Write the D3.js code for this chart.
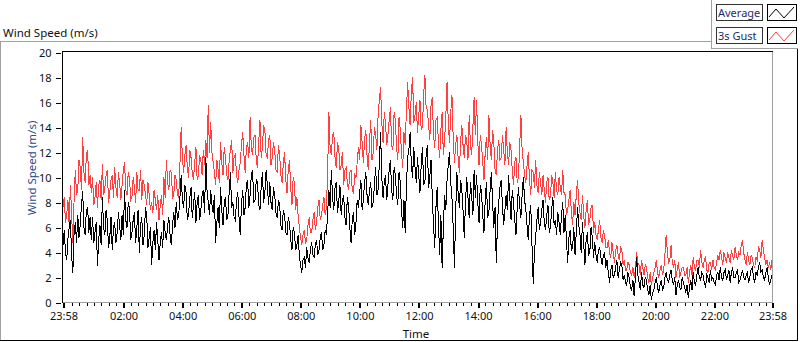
<!DOCTYPE html>
<html>
<head>
<meta charset="utf-8">
<script src="https://cdn.jsdelivr.net/npm/d3@7"></script>
<style>
  html, body { margin: 0; padding: 0; background: #fff; }
  svg { display: block; font-family: 'Noto Sans', sans-serif; }
</style>
</head>
<body>
<svg id="chart" width="800" height="342"></svg>
<script>
// one sample every 2.5 minutes from 23:58 the day before (one row = one hour)
const avgSpeed = [
  4.6,5.8,4.0,3.4,5.1,6.0,6.6,3.8,2.4,5.6,6.4,4.8,7.0,5.2,6.2,7.8,8.9,6.0,5.4,7.4,7.6,5.6,6.8,5.0,
  6.8,4.8,5.6,6.4,2.9,5.0,6.2,4.6,8.4,6.0,5.4,7.4,6.6,4.4,5.2,6.8,4.2,6.0,6.4,4.8,5.6,7.2,6.2,5.0,
  7.0,5.4,9.0,6.6,6.0,8.0,7.6,5.0,5.6,6.6,7.2,4.8,6.0,7.4,4.0,6.2,6.8,4.6,5.4,7.6,7.0,4.4,5.2,6.0,
  3.0,4.8,5.8,4.2,6.4,5.0,3.4,4.8,5.6,4.4,6.6,5.6,5.0,6.2,6.8,5.4,4.6,6.2,7.2,6.0,8.0,6.6,7.0,8.4,
  10.2,8.2,7.6,9.4,8.8,6.6,7.0,8.4,9.2,6.8,7.8,8.8,6.4,8.0,8.6,6.6,7.4,8.6,9.0,7.2,11.6,9.0,8.0,7.0,
  9.0,7.8,7.2,8.6,4.8,6.4,7.6,6.0,9.2,7.4,6.2,8.0,8.4,6.6,7.0,8.8,10.4,7.6,8.0,6.8,6.6,8.2,8.8,6.8,
  5.4,7.8,9.0,7.0,7.6,9.4,9.8,7.6,8.6,10.2,10.6,8.0,8.2,9.8,9.6,7.8,7.4,9.2,10.4,8.0,8.8,10.6,9.4,7.8,
  9.6,8.0,7.4,9.2,8.6,7.2,6.8,8.2,7.8,6.2,5.8,7.4,7.0,5.6,5.4,6.8,6.4,5.0,4.2,6.0,5.6,4.2,4.6,5.4,
  3.8,3.0,2.4,3.4,3.6,2.8,4.4,3.6,3.2,4.2,4.8,3.8,3.6,4.6,5.0,3.8,4.2,5.2,5.6,4.2,4.6,5.8,5.4,7.2,
  9.0,7.6,10.6,8.4,7.4,9.2,9.6,7.2,8.0,9.4,7.0,8.2,8.6,6.8,6.2,8.4,7.8,6.0,4.8,6.6,7.2,5.4,6.4,8.2,
  7.6,8.8,9.8,7.4,8.2,9.6,10.4,8.6,7.8,9.0,9.6,7.6,8.0,9.4,10.8,8.6,9.0,11.2,13.6,10.0,8.4,9.6,10.2,8.2,
  9.4,10.6,11.4,9.0,8.2,10.8,10.2,8.6,7.8,10.4,9.6,7.4,6.0,8.2,5.6,9.4,11.6,12.2,13.6,11.0,10.0,12.4,10.8,9.6,
  11.6,10.2,8.8,11.0,12.4,9.4,9.6,11.8,12.6,9.2,10.0,11.4,8.4,6.2,4.4,7.6,9.2,6.4,3.8,7.0,2.8,6.0,8.6,7.4,
  9.8,11.0,12.0,9.6,8.4,6.0,2.8,7.2,10.4,8.8,7.6,9.8,9.0,7.4,5.2,8.0,10.0,8.4,6.8,9.6,8.6,7.0,10.6,8.4,
  10.2,8.0,6.4,9.4,8.8,7.0,5.6,8.2,9.6,6.8,7.2,9.0,10.4,8.0,6.0,7.6,3.2,6.4,8.0,9.2,9.8,7.8,6.2,7.4,
  8.6,7.4,10.2,8.4,6.6,9.0,8.0,6.6,5.4,7.6,9.2,7.8,6.8,8.6,10.0,8.2,7.4,6.2,5.0,7.0,7.8,4.6,1.5,4.0,
  5.2,6.6,7.6,5.8,6.4,7.4,8.2,6.4,5.8,7.0,7.8,5.6,6.0,7.4,8.4,6.2,6.6,5.4,7.2,6.4,5.4,7.0,8.0,5.6,
  7.0,5.0,3.2,5.2,5.8,4.2,4.4,6.0,3.8,5.6,7.6,6.2,5.4,4.0,6.4,4.8,3.0,5.0,5.6,3.8,4.0,6.0,5.2,3.6,
  4.8,3.8,3.2,4.2,4.4,3.6,3.0,3.8,4.0,2.8,3.4,2.4,1.6,2.6,3.0,2.0,2.2,2.8,3.4,2.0,2.6,3.2,3.0,1.8,
  2.2,1.6,1.4,2.4,2.0,1.2,1.0,1.8,0.5,2.0,3.6,2.2,1.6,1.0,2.4,1.4,1.2,2.0,1.8,1.0,0.6,1.4,0.2,0.8,
  1.0,1.6,2.0,1.2,0.8,1.4,1.8,1.0,1.2,2.0,2.4,1.8,1.6,2.2,2.6,1.8,1.4,2.0,0.6,1.4,1.8,1.2,1.0,2.0,
  1.6,1.2,0.8,1.4,0.4,1.2,1.8,1.0,2.4,1.6,1.4,2.2,2.8,2.0,1.8,2.4,2.2,1.6,1.2,2.2,2.0,1.6,2.6,1.8,
  2.0,1.6,1.4,2.2,2.4,1.8,2.8,2.0,1.8,2.4,2.6,1.8,2.2,2.6,1.6,2.4,2.8,2.0,2.0,2.4,2.6,1.6,1.8,2.2,
  2.6,2.0,1.8,2.2,2.4,1.6,2.0,2.6,2.8,2.0,1.6,2.4,2.2,2.8,3.2,2.4,2.6,2.0,1.8,2.4,2.8,2.0,1.4,1.8,
  2.2
];

const gustSpeed = [
  7.6,8.4,6.4,7.0,8.2,6.2,9.4,7.0,4.8,8.2,10.6,8.6,9.0,11.4,10.8,9.0,13.2,10.4,9.6,11.8,12.2,9.4,10.2,8.8,
  10.0,7.8,8.4,9.6,7.6,9.4,9.8,8.2,11.1,8.6,9.2,10.2,10.6,8.0,8.8,9.8,10.2,8.4,10.8,9.2,8.4,10.4,9.6,8.2,
  9.4,10.6,11.2,9.0,8.6,10.4,10.0,8.2,8.4,10.0,9.2,8.0,10.4,9.0,9.0,10.6,8.2,9.8,9.4,8.6,7.8,9.6,8.6,7.4,
  8.0,7.2,9.0,8.2,7.4,8.6,6.6,7.8,8.6,7.0,10.0,8.4,11.4,9.6,9.0,10.6,10.4,8.4,8.6,10.2,9.8,8.6,8.4,11.0,
  14.0,11.6,10.4,11.8,12.6,10.8,10.0,12.2,11.6,10.4,9.8,11.2,12.4,9.8,10.2,11.8,11.4,10.2,12.2,11.0,13.0,11.6,15.8,12.0,
  14.4,12.0,11.2,10.4,9.4,11.4,10.6,9.6,12.8,11.2,10.2,12.4,11.6,10.2,9.8,11.4,12.2,13.0,10.4,11.6,11.8,10.2,9.6,10.6,
  11.2,12.6,13.6,11.8,10.4,12.4,12.8,11.6,14.8,12.4,11.8,13.2,13.4,11.4,10.8,12.8,14.6,11.6,12.4,14.2,13.8,11.8,11.6,13.0,
  13.4,11.0,11.6,12.8,12.2,10.6,10.4,12.6,11.8,10.2,9.6,11.2,12.0,9.8,8.8,10.6,11.4,9.2,7.8,10.0,9.6,7.4,8.4,7.0,
  6.0,5.2,4.6,5.4,5.8,4.8,5.0,6.2,6.8,5.6,5.6,6.6,7.2,5.8,6.4,7.6,8.2,6.6,7.0,7.8,8.4,7.0,7.6,10.4,
  15.2,12.4,11.8,13.4,13.6,11.6,10.8,12.8,12.4,10.6,11.0,12.0,9.4,10.6,10.8,9.6,9.0,10.4,10.6,9.0,8.8,10.2,10.0,11.2,
  12.4,11.4,14.2,12.8,11.2,13.0,13.8,11.8,10.6,12.8,14.6,11.4,12.0,14.0,13.4,12.2,15.0,16.2,17.2,14.4,12.8,15.2,14.4,12.6,
  13.4,14.6,15.6,12.6,12.2,15.2,14.6,12.4,11.4,14.8,13.8,12.0,10.8,13.6,12.6,15.4,17.6,15.6,14.2,16.8,18.0,14.4,15.0,16.0,
  13.6,15.0,16.2,13.8,14.0,16.6,18.2,15.6,15.4,14.2,13.0,15.8,16.4,13.4,12.4,14.6,14.8,12.8,11.6,13.8,15.2,11.8,13.0,14.8,
  17.6,14.4,12.8,15.2,16.6,13.2,11.2,12.6,13.4,11.6,10.4,12.8,14.2,12.6,11.6,13.4,13.0,11.4,15.0,12.6,11.8,14.0,16.4,13.4,
  16.2,12.8,11.0,13.4,12.6,11.2,9.8,12.0,13.2,11.4,15.0,12.6,11.4,13.8,12.8,10.6,10.2,12.2,13.0,11.4,11.6,13.4,12.2,11.0,
  14.0,12.0,11.0,12.8,12.2,10.6,9.4,11.2,11.6,9.6,10.0,12.4,15.0,12.2,11.2,10.2,9.6,11.0,12.0,9.8,8.6,10.6,10.4,9.2,
  11.4,9.4,8.8,10.4,9.6,8.6,10.2,9.0,8.0,9.6,10.0,8.2,8.4,10.2,9.6,8.4,10.4,9.0,8.6,10.0,9.2,8.6,10.6,8.8,
  8.6,7.0,7.4,8.2,9.0,7.2,6.2,8.0,7.0,8.6,9.8,8.0,7.2,6.6,8.6,7.0,6.0,7.4,8.2,6.2,6.6,7.6,7.8,5.6,
  6.4,5.4,5.0,5.8,6.6,5.2,4.8,5.8,5.4,4.4,4.4,5.0,4.0,3.6,4.8,4.0,3.2,4.2,4.6,3.8,3.4,4.4,4.2,3.0,
  3.4,2.6,2.6,3.2,3.0,2.4,2.2,2.8,2.0,2.6,4.0,3.2,3.0,2.2,3.4,2.8,2.2,3.0,2.8,2.0,1.6,2.4,1.4,2.0,
  2.4,2.8,3.4,2.4,2.0,2.6,3.0,2.2,2.6,3.8,5.4,4.0,3.2,3.4,4.6,3.2,2.8,3.4,2.0,2.6,3.2,2.0,2.4,2.8,
  2.8,2.2,2.2,2.8,1.6,2.4,3.0,2.2,3.6,2.8,2.6,3.4,3.4,2.8,4.2,3.2,2.8,3.4,3.6,2.6,2.4,3.2,3.2,2.6,
  3.4,2.8,2.6,3.2,3.8,3.4,4.2,3.6,3.0,4.0,3.6,3.2,4.0,3.6,3.2,4.2,3.8,3.4,4.4,3.8,3.4,4.0,3.8,4.6,
  5.0,4.0,3.4,3.0,4.0,3.4,3.0,3.8,3.6,3.0,2.8,3.6,3.4,4.4,4.2,3.6,5.0,4.2,3.6,3.0,3.4,2.8,3.2,2.6,
  3.4
];

const sampleStep = 2.5; // minutes
const timeTickLabels = ['23:58', '02:00', '04:00', '06:00', '08:00', '10:00', '12:00',
  '14:00', '16:00', '18:00', '20:00', '22:00', '23:58'];
const speedTicks = [0, 2, 4, 6, 8, 10, 12, 14, 16, 18, 20];
const seriesNames = ['Average', '3s Gust'];
const seriesColors = ['#000000', '#ff4040'];

const svg = d3.select('#chart');
const plot = { left: 63, top: 52.5, right: 772, bottom: 302.5 };

const start = new Date(2020, 0, 1, 23, 58);
const end = d3.timeMinute.offset(start, 1440);
const startMin = 23 * 60 + 58;

const x = d3.scaleTime().domain([start, end]).range([plot.left, plot.right]);
const y = d3.scaleLinear().domain([0, 20]).range([plot.bottom, plot.top]);

const tickDates = timeTickLabels.map((s, i) => {
  const [h, m] = s.split(':').map(Number);
  let off = ((h * 60 + m) - startMin + 1440) % 1440;
  if (i === timeTickLabels.length - 1 && off === 0) off = 1440;
  return d3.timeMinute.offset(start, off);
});

// outer frame
const frame = svg.append('g').attr('shape-rendering', 'crispEdges');
frame.append('line').attr('x1', 0).attr('x2', 712).attr('y1', 41.5).attr('y2', 41.5).attr('stroke', '#a0a0a0');
frame.append('line').attr('x1', 0.5).attr('x2', 0.5).attr('y1', 41).attr('y2', 341).attr('stroke', '#a0a0a0');
frame.append('line').attr('x1', 0).attr('x2', 798).attr('y1', 340.5).attr('y2', 340.5).attr('stroke', '#000');
frame.append('line').attr('x1', 797.5).attr('x2', 797.5).attr('y1', 49).attr('y2', 341).attr('stroke', '#000');
frame.append('line').attr('x1', 711.5).attr('x2', 711.5).attr('y1', 0).attr('y2', 49).attr('stroke', '#a0a0a0');
frame.append('line').attr('x1', 711).attr('x2', 798).attr('y1', 48.5).attr('y2', 48.5).attr('stroke', '#a0a0a0');

svg.append('text')
  .attr('x', 3).attr('y', 36.5)
  .style('font-size', '11.5px')
  .attr('fill', '#111')
  .text('Wind Speed (m/s)');

// data
svg.append('clipPath').attr('id', 'clip')
  .append('rect')
  .attr('x', plot.left).attr('y', plot.top - 1)
  .attr('width', plot.right - plot.left).attr('height', plot.bottom - plot.top + 1);

const line = d3.line()
  .x((d, i) => x(new Date(start.getTime() + i * sampleStep * 60000)))
  .y(d => y(d));

const series = [gustSpeed, avgSpeed];
const seriesCol = [seriesColors[1], seriesColors[0]];
svg.append('g').attr('clip-path', 'url(#clip)')
  .selectAll('path')
  .data(series)
  .enter().append('path')
  .attr('d', d => line(d))
  .attr('fill', 'none')
  .attr('stroke', (d, i) => seriesCol[i])
  .attr('stroke-width', 1)
  .attr('shape-rendering', 'crispEdges');

// plot border
const border = svg.append('g').attr('shape-rendering', 'crispEdges');
border.append('line').attr('x1', 62).attr('x2', 773).attr('y1', 51.5).attr('y2', 51.5).attr('stroke', '#000');
border.append('line').attr('x1', 62.5).attr('x2', 62.5).attr('y1', 51).attr('y2', 303).attr('stroke', '#000');
border.append('line').attr('x1', 772.5).attr('x2', 772.5).attr('y1', 52).attr('y2', 303).attr('stroke', '#a0a0a0');
border.append('line').attr('x1', 63).attr('x2', 773).attr('y1', 302.5).attr('y2', 302.5).attr('stroke', '#a0a0a0');

// y axis
const yAxis = svg.append('g')
  .attr('transform', 'translate(60.5,0)')
  .call(d3.axisLeft(y).tickValues(speedTicks).tickSize(5).tickPadding(4));
yAxis.select('.domain').remove();
yAxis.selectAll('.tick line').attr('stroke', '#000').attr('shape-rendering', 'crispEdges');
yAxis.selectAll('.tick text')
  .attr('fill', '#111')
  .style('font-family', "'Noto Sans', sans-serif")
  .style('font-size', '11px');

// x axis, minor ticks every 15 minutes
const minor = svg.append('g')
  .attr('transform', 'translate(0.5,303)')
  .call(d3.axisBottom(x).ticks(d3.timeMinute.every(15)).tickSize(3).tickFormat(''));
minor.select('.domain').remove();
minor.selectAll('.tick line').attr('stroke', '#000').attr('shape-rendering', 'crispEdges');

const xAxis = svg.append('g')
  .attr('transform', 'translate(0.5,303)')
  .call(d3.axisBottom(x).tickValues(tickDates).tickSize(5).tickPadding(4)
    .tickFormat((d, i) => timeTickLabels[i]));
xAxis.select('.domain').remove();
xAxis.selectAll('.tick line').attr('stroke', '#000').attr('stroke-width', 2).attr('shape-rendering', 'crispEdges');
xAxis.selectAll('.tick text')
  .attr('fill', '#111')
  .style('font-family', "'Noto Sans', sans-serif")
  .style('font-size', '11px');

// axis titles
svg.append('text')
  .attr('x', 416).attr('y', 338)
  .attr('text-anchor', 'middle')
  .style('font-size', '11.5px')
  .attr('fill', '#111')
  .text('Time');

svg.append('text')
  .attr('transform', 'translate(36,168) rotate(-90)')
  .attr('text-anchor', 'middle')
  .style('font-size', '11.5px')
  .attr('fill', '#2b4c8c')
  .text('Wind Speed (m/s)');

// legend
const legend = svg.selectAll('.legend')
  .data(seriesNames)
  .enter().append('g')
  .attr('class', 'legend')
  .attr('transform', (d, i) => `translate(0,${i === 0 ? 0 : 23})`);

legend.append('rect')
  .attr('x', 716.5).attr('y', 4.5).attr('width', 46).attr('height', 16)
  .attr('fill', '#fff').attr('stroke', '#333').attr('shape-rendering', 'crispEdges');
legend.append('text')
  .attr('x', 718).attr('y', 16.5)
  .style('font-size', '11px')
  .attr('fill', '#1c2d6b')
  .text(d => d);
legend.append('rect')
  .attr('x', 767.5).attr('y', 4.5).attr('width', 29).attr('height', 16)
  .attr('fill', '#fff').attr('stroke', '#000').attr('shape-rendering', 'crispEdges');
legend.append('path')
  .attr('d', 'M769,17L776,9L784,18L794,7')
  .attr('fill', 'none')
  .attr('stroke', (d, i) => seriesColors[i])
  .attr('stroke-width', 1);
</script>
</body>
</html>
